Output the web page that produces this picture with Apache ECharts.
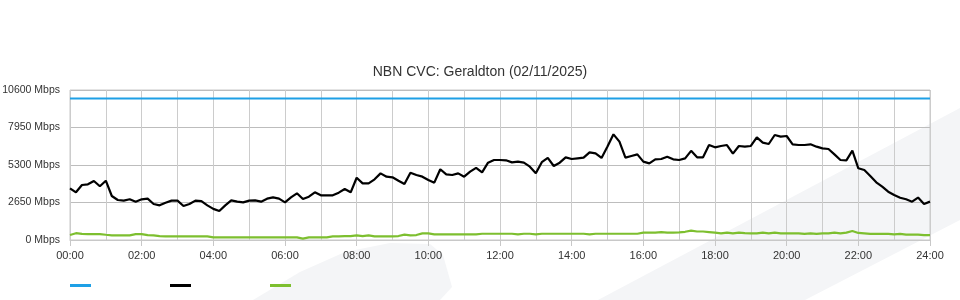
<!DOCTYPE html>
<html>
<head>
<meta charset="utf-8">
<script src="https://cdn.jsdelivr.net/npm/echarts@6/dist/echarts.min.js"></script>
<style>html,body{margin:0;padding:0;background:#fff}#c{width:960px;height:300px}</style>
</head>
<body>
<div id="c"></div>
<script>
// 10-minute samples, 00:00 .. 24:00 (145 points)
const titleText = 'NBN CVC: Geraldton (02/11/2025)';
const seriesNames = ['Capacity', 'Traffic', 'Upload'];
const yTicks = [0, 2650, 5300, 7950, 10600];
const capacity = 10000;
const traffic = [
  3654,3370,3887,3934,4170,3800,
  4190,3110,2827,2780,2876,2710,
  2876,2920,2544,2450,2637,2780,
  2780,2403,2544,2780,2750,2450,
  2200,2050,2450,2800,2710,2660,
  2780,2800,2710,2920,3015,2920,
  2660,3015,3300,2897,3063,3370,
  3157,3157,3157,3345,3604,3370,
  4400,4004,4004,4287,4710,4475,
  4430,4192,3960,4758,4593,4475,
  4240,4052,5000,4640,4593,4710,
  4475,4829,5100,4780,5465,5653,
  5653,5630,5488,5535,5465,5182,
  4710,5500,5800,5230,5465,5842,
  5724,5771,5818,6195,6124,5800,
  6600,7467,6949,5818,5936,6053,
  5535,5418,5700,5724,5890,5700,
  5653,5771,6300,5842,5842,6713,
  6548,6643,6713,6100,6643,6595,
  6643,7256,6878,6784,7420,7302,
  7350,6760,6713,6713,6760,6595,
  6477,6430,6053,5653,5630,6313,
  5066,4947,4523,4076,3770,3415,
  3180,2990,2876,2710,3000,2550,
  2710
];
const upload = [
  350,480,430,420,420,420,
  370,330,330,330,330,420,
  420,340,330,280,260,260,
  260,260,260,260,260,260,
  190,190,190,190,190,190,
  190,190,190,190,190,190,
  190,190,190,100,190,190,
  190,190,260,260,280,280,
  330,280,330,260,260,260,
  260,280,380,330,350,470,
  470,400,400,400,400,400,
  400,400,400,440,440,440,
  440,440,440,400,440,440,
  400,440,440,440,440,440,
  440,440,440,400,440,440,
  440,440,440,440,440,440,
  520,520,520,560,520,520,
  540,580,660,600,600,560,
  520,470,520,470,520,480,
  470,470,520,470,520,470,
  470,470,470,430,470,430,
  470,470,520,470,520,640,
  500,470,430,430,430,430,
  400,430,380,380,380,350,
  340
];
const times = [];
for (let i = 0; i < traffic.length; i++) {
  const m = i * 10;
  times.push(String(Math.floor(m / 60)).padStart(2, '0') + ':' + String(m % 60).padStart(2, '0'));
}
const capLine = times.map(() => capacity);

const chart = echarts.init(document.getElementById('c'), null, {renderer: 'canvas'});
const font = 'Liberation Sans, Arial, sans-serif';
chart.setOption({
  animation: false,
  backgroundColor: '#ffffff',
  graphic: [
    {type: 'polygon', z: -10, silent: true,
     shape: {points: [[253,300],[300,272],[345,252],[390,243],[430,244],[443,255],[452,287],[440,300]]},
     style: {fill: '#f4f5f7'}},
    {type: 'polygon', z: -10, silent: true,
     shape: {points: [[598,300],[960,108],[960,220],[805,300]]},
     style: {fill: '#f4f5f7'}}
  ],
  title: {
    text: titleText, left: 'center', top: 60,
    textStyle: {fontFamily: font, fontSize: 14, fontWeight: 'normal', color: '#333'}
  },
  legend: {
    left: 65, top: 279, icon: 'rect', itemWidth: 21, itemHeight: 3, itemGap: 79,
    data: seriesNames, formatter: () => '',
    textStyle: {fontSize: 1, color: 'rgba(0,0,0,0)'}
  },
  grid: {left: 70, right: 30, top: 90, bottom: 60, containLabel: false, outerBoundsMode: 'none',
         show: true, borderColor: '#c8c8c8', borderWidth: 1, backgroundColor: 'transparent'},
  xAxis: {
    type: 'category', data: times, boundaryGap: false,
    axisLine: {show: true, lineStyle: {color: '#c8c8c8'}},
    axisTick: {show: true, interval: 11, length: 6, lineStyle: {color: '#c8c8c8'}},
    axisLabel: {interval: 11, margin: 10, fontFamily: font, fontSize: 11, color: '#333'},
    splitLine: {show: true, interval: 5, lineStyle: {color: '#cccccc', width: 1}}
  },
  yAxis: {
    type: 'value', min: yTicks[0], max: yTicks[yTicks.length - 1], interval: yTicks[1] - yTicks[0],
    axisLine: {show: false}, axisTick: {show: false},
    axisLabel: {formatter: (v) => String(v) + ' Mbps', margin: 10, fontFamily: font, fontSize: 10.5, color: '#333'},
    splitLine: {show: true, lineStyle: {color: '#bdbdbd', width: 1}}
  },
  series: [
    {name: seriesNames[0], type: 'line', data: capLine, showSymbol: false, symbol: 'none',
     lineStyle: {color: '#1ea0e6', width: 2}, itemStyle: {color: '#1ea0e6'}},
    {name: seriesNames[1], type: 'line', data: traffic, showSymbol: false, symbol: 'none',
     lineStyle: {color: '#000000', width: 2.2}, itemStyle: {color: '#000000'}},
    {name: seriesNames[2], type: 'line', data: upload, showSymbol: false, symbol: 'none',
     lineStyle: {color: '#7dbf2f', width: 2.2}, itemStyle: {color: '#7dbf2f'}}
  ]
});
</script>
</body>
</html>
